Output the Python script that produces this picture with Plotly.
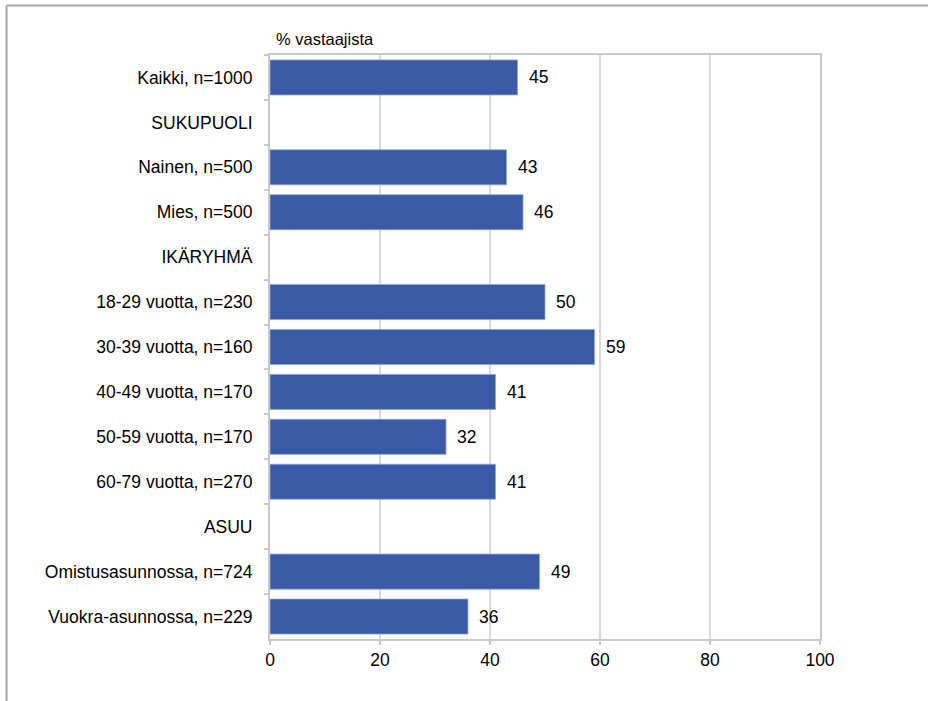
import plotly.graph_objects as go

categories = ["Kaikki, n=1000", "SUKUPUOLI", "Nainen, n=500", "Mies, n=500", "IKÄRYHMÄ",
              "18-29 vuotta, n=230", "30-39 vuotta, n=160", "40-49 vuotta, n=170",
              "50-59 vuotta, n=170", "60-79 vuotta, n=270", "ASUU",
              "Omistusasunnossa, n=724", "Vuokra-asunnossa, n=229"]
values = [45, None, 43, 46, None, 50, 59, 41, 32, 41, None, 49, 36]
x_ticks = [0, 20, 40, 60, 80, 100]
axis_title = "% vastaajista"

W, H = 928, 701
L, R, T, B = 270, 820, 55, 639
FS = 17.5

fig = go.Figure()
fig.add_trace(go.Bar(
    y=categories, x=values, orientation="h",
    marker=dict(color="#3A5AA8", line=dict(color="#8FA3D4", width=0.8)),
    width=0.78, hoverinfo="x+y",
))

for c, v in zip(categories, values):
    if v is not None:
        fig.add_annotation(x=v, y=c, text=str(v), showarrow=False, xanchor="left",
                           xshift=9, font=dict(size=FS, color="#000000"))

fig.add_annotation(xref="paper", yref="paper", x=0.008, y=1.0, yshift=5, text=axis_title,
                   showarrow=False, xanchor="left", yanchor="bottom",
                   font=dict(size=16.5, color="#000000"))

# outer frame (top and left)
def px_x(p):
    return (p - L) / (R - L)

def px_y(p):
    return (B - p) / (B - T)

fig.add_shape(type="line", xref="paper", yref="paper", x0=px_x(6.5), x1=px_x(930),
              y0=px_y(5.5), y1=px_y(5.5), line=dict(color="#A6A6A6", width=2))
fig.add_shape(type="line", xref="paper", yref="paper", x0=px_x(6.5), x1=px_x(6.5),
              y0=px_y(5.5), y1=px_y(705), line=dict(color="#A6A6A6", width=2))

fig.update_layout(
    width=W, height=H,
    margin=dict(l=L, r=W - R, t=T, b=H - B),
    paper_bgcolor="white", plot_bgcolor="white",
    font=dict(family="Liberation Sans, Arial, sans-serif", size=FS, color="#000000"),
    showlegend=False,
    xaxis=dict(range=[0, 100], tickvals=x_ticks, showgrid=True, gridcolor="#D9D9D9",
               gridwidth=1.5, zeroline=False, showline=True, linecolor="#C8C8C8",
               linewidth=2, mirror=True, ticks="outside", ticklen=4, tickcolor="#C8C8C8",
               tickwidth=1.5, tickfont=dict(size=FS)),
    yaxis=dict(type="category", autorange="reversed", showgrid=False, zeroline=False,
               showline=True, linecolor="#C8C8C8", linewidth=2, mirror=True,
               ticks="outside", tickson="boundaries", ticklen=4, tickcolor="#C8C8C8",
               tickwidth=1.5, tickfont=dict(size=FS), ticklabelstandoff=12),
)

fig.write_html("out.html")
